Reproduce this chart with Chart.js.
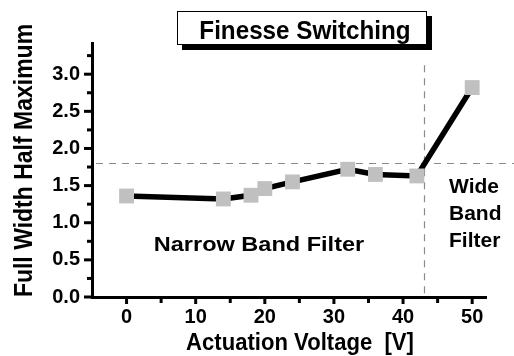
<!DOCTYPE html>
<html>
<head>
<meta charset="utf-8">
<script src="https://cdn.jsdelivr.net/npm/chart.js@4.4.1/dist/chart.umd.min.js"></script>
<style>
  html, body { margin: 0; padding: 0; background: #fff; overflow: hidden; }
  #wrap { width: 514px; height: 356px; position: relative; }
</style>
</head>
<body>
<div id="wrap"><canvas id="c" width="514" height="356"></canvas></div>
<script>
// Measured FWHM versus actuation voltage
const voltages = [0, 14, 18, 20, 24, 32, 36, 42, 50];
const fwhm = [1.36, 1.32, 1.37, 1.46, 1.55, 1.72, 1.65, 1.63, 2.82];

// Axis ticks (labels only on the major ones)
const xTickValues = [0, 5, 10, 15, 20, 25, 30, 35, 40, 45, 50];
const xMajorStep = 10;
const yTickValues = [0, 0.25, 0.5, 0.75, 1, 1.25, 1.5, 1.75, 2, 2.25, 2.5, 2.75, 3, 3.25];
const yMajorStep = 0.5;

// Regime boundaries
const switchVoltage = 43.1;
const switchLineTop = 3.12;
const fwhmThreshold = 1.8;

// Texts
const chartTitle = 'Finesse Switching';
const xTitle = 'Actuation Voltage  [V]';
const yTitle = 'Full Width Half Maximum';
const narrowLabel = 'Narrow Band Filter';
const wideLabel = ['Wide', 'Band', 'Filter'];

const FONT = '"Liberation Sans", Arial, Helvetica, sans-serif';

function isMajor(v, step) {
  const r = v / step;
  return Math.abs(r - Math.round(r)) < 1e-9;
}

function drawText(ctx, str, x, y, size, align, sx) {
  ctx.save();
  ctx.translate(x, y);
  ctx.scale(sx || 1, 1);
  ctx.font = 'bold ' + size + 'px ' + FONT;
  ctx.fillStyle = '#000';
  ctx.textAlign = align;
  ctx.textBaseline = 'alphabetic';
  ctx.fillText(str, 0, 0);
  ctx.restore();
}

const dashedGuides = {
  id: 'dashedGuides',
  beforeDatasetsDraw(chart) {
    const { ctx, chartArea, scales: { x, y } } = chart;
    ctx.save();
    ctx.strokeStyle = '#8a8a8a';
    ctx.lineWidth = 1.2;
    ctx.setLineDash([7, 6]);
    const hy = Math.round(y.getPixelForValue(fwhmThreshold)) + 0.5;
    ctx.beginPath();
    ctx.moveTo(chartArea.left + 4, hy);
    ctx.lineTo(chart.width, hy);
    ctx.stroke();
    const vx = Math.round(x.getPixelForValue(switchVoltage)) + 0.5;
    ctx.beginPath();
    ctx.moveTo(vx, y.getPixelForValue(switchLineTop));
    ctx.lineTo(vx, chartArea.bottom);
    ctx.stroke();
    ctx.restore();
  }
};

const axisDecor = {
  id: 'axisDecor',
  afterDraw(chart) {
    const { ctx, chartArea, scales: { x, y } } = chart;
    ctx.save();
    ctx.strokeStyle = '#000';
    ctx.lineWidth = 3;
    // x tick marks, pointing down
    xTickValues.forEach(v => {
      const px = x.getPixelForValue(v);
      const len = isMajor(v, xMajorStep) ? 7 : 6;
      ctx.beginPath();
      ctx.moveTo(px, chartArea.bottom);
      ctx.lineTo(px, chartArea.bottom + len);
      ctx.stroke();
    });
    // y tick marks, pointing left
    yTickValues.forEach(v => {
      const py = y.getPixelForValue(v);
      const len = isMajor(v, yMajorStep) ? 8 : 5;
      ctx.beginPath();
      ctx.moveTo(chartArea.left, py);
      ctx.lineTo(chartArea.left - len, py);
      ctx.stroke();
    });
    ctx.restore();

    // title box with drop shadow
    const bx = 177, by = 11, bw = 250, bh = 34;
    ctx.save();
    ctx.fillStyle = '#000';
    ctx.fillRect(bx + 5, by + 5, bw, bh);
    ctx.fillStyle = '#fff';
    ctx.fillRect(bx, by, bw, bh);
    ctx.strokeStyle = '#000';
    ctx.lineWidth = 1;
    ctx.strokeRect(bx + 0.5, by + 0.5, bw - 1, bh - 1);
    ctx.restore();
    drawText(ctx, chartTitle, 305, 38.5, 25.5, 'center', 0.95);

    // axis titles
    drawText(ctx, xTitle, 300, 350, 24, 'center', 0.92);
    ctx.save();
    ctx.translate(31.5, 160.5);
    ctx.rotate(-Math.PI / 2);
    drawText(ctx, yTitle, 0, 0, 25, 'center', 0.92);
    ctx.restore();

    // regime labels
    drawText(ctx, narrowLabel, 259, 251, 21, 'center', 1.12);
    wideLabel.forEach((line, i) => drawText(ctx, line, 449, 193 + i * 27, 21, 'left', 1));
  }
};

new Chart(document.getElementById('c'), {
  type: 'line',
  data: {
    datasets: [{
      data: voltages.map((v, i) => ({ x: v, y: fwhm[i] })),
      borderColor: '#000',
      borderWidth: 5.5,
      tension: 0,
      pointStyle: 'rect',
      pointRadius: 10.5,
      pointHoverRadius: 10.5,
      pointBackgroundColor: '#c0c0c0',
      pointBorderWidth: 0,
      clip: false
    }]
  },
  options: {
    responsive: false,
    animation: false,
    devicePixelRatio: 1,
    events: [],
    layout: { padding: { left: 0, top: 43, right: 28, bottom: 0 } },
    plugins: { legend: { display: false }, title: { display: false }, tooltip: { enabled: false } },
    scales: {
      x: {
        type: 'linear',
        min: -5,
        max: 52,
        afterBuildTicks: s => { s.ticks = xTickValues.map(v => ({ value: v })); },
        afterFit: s => { s.height = 59; },
        grid: { display: false, drawTicks: false },
        border: { display: true, color: '#000', width: 3 },
        ticks: {
          autoSkip: false,
          maxRotation: 0,
          padding: 8,
          color: '#000',
          font: { family: FONT, size: 20, weight: 'bold' },
          callback: v => isMajor(v, xMajorStep) ? String(v) : ''
        }
      },
      y: {
        type: 'linear',
        min: 0,
        max: 3.42,
        afterBuildTicks: s => { s.ticks = yTickValues.map(v => ({ value: v })); },
        afterFit: s => { s.width = 92; },
        grid: { display: false, drawTicks: false },
        border: { display: true, color: '#000', width: 3 },
        ticks: {
          autoSkip: false,
          padding: 12,
          color: '#000',
          font: { family: FONT, size: 20, weight: 'bold' },
          callback: v => isMajor(v, yMajorStep) ? v.toFixed(1) : ''
        }
      }
    }
  },
  plugins: [dashedGuides, axisDecor]
});
</script>
</body>
</html>
